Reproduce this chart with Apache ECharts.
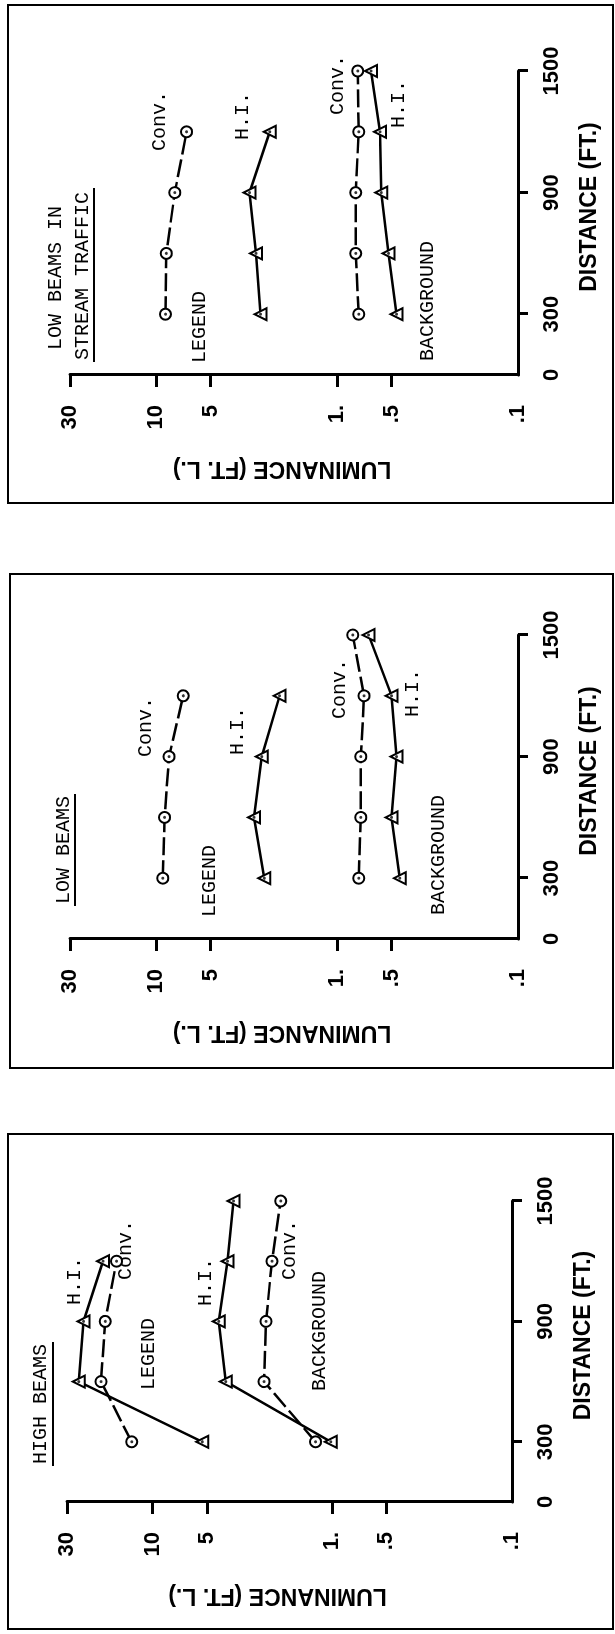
<!DOCTYPE html>
<html>
<head>
<meta charset="utf-8">
<title>Luminance vs distance</title>
<script src="https://cdn.jsdelivr.net/npm/echarts@6/dist/echarts.min.js"></script>
<style>
  html, body { margin: 0; padding: 0; background: #fff; overflow: hidden; }
  body { width: 615px; height: 1634px; position: relative; }
  /* the chart is drawn landscape and turned a quarter turn counter-clockwise */
  #chart {
    position: absolute; left: 0; top: 0;
    width: 1634px; height: 615px;
    transform-origin: 0 0;
    transform: translate(0, 1634px) rotate(-90deg);
  }
</style>
</head>
<body>
<div id="chart"></div>
<script>
const distances = [300, 600, 900, 1200, 1500]
const distTicks = [300, 900, 1500]
const distLabels = [0, 300, 900, 1500]
const lumTicks = [30, 10, 5, 1, 0.5]
const lumLabelValues = [30, 10, 5, 1, 0.5, 0.1]
const lumLabelText = ['30', '10', '5', '1.', '.5', '.1']

// HIGH BEAMS
const highLegendHI = [5.3, 25.8, 24.3, 18.9]
const highLegendConv = [13.1, 19.4, 18.4, 15.9]
const highBackHI = [1.02, 3.92, 4.29, 3.83, 3.55]
const highBackConv = [1.24, 2.40, 2.34, 2.17, 1.94]

// LOW BEAMS
const lowLegendHI = [2.53, 2.88, 2.61, 2.08]
const lowLegendConv = [9.2, 9.0, 8.5, 7.1]
const lowBackHI = [0.45, 0.50, 0.47, 0.50, 0.67]
const lowBackConv = [0.76, 0.74, 0.74, 0.71, 0.82]

// LOW BEAMS IN STREAM TRAFFIC
const streamLegendHI = [2.65, 2.81, 3.05, 2.36]
const streamLegendConv = [8.9, 8.8, 7.9, 6.8]
const streamBackHI = [0.47, 0.52, 0.57, 0.58, 0.65]
const streamBackConv = [0.76, 0.79, 0.79, 0.76, 0.77]

const boldFont = "'Liberation Sans Narrow', 'Liberation Sans', Arial, sans-serif"
const monoFont = "'Liberation Mono', 'DejaVu Sans Mono', monospace"

const panels = [
  {
    titles: [['HIGH BEAMS', 230, 41]],
    underline: [168, 292, 53],
    frame: [5, 8, 495, 605],
    grid: { left: 132, top: 67, width: 301, height: 445 },
    hi: [highLegendHI, highBackHI],
    conv: [highLegendConv, highBackConv],
    notes: [['LEGEND', 280, 149], ['H.I.', 353, 75], ['Conv.', 384, 126],
            ['H.I.', 352, 206], ['Conv.', 384, 290], ['BACKGROUND', 303, 320]]
  },
  {
    titles: [['LOW BEAMS', 784, 64]],
    underline: [728, 840, 75],
    frame: [566, 10, 494, 603],
    grid: { left: 695, top: 70, width: 304, height: 448 },
    hi: [lowLegendHI, lowBackHI],
    conv: [lowLegendConv, lowBackConv],
    notes: [['LEGEND', 753, 210], ['Conv.', 907, 146], ['H.I.', 903, 238],
            ['Conv.', 945, 340], ['H.I.', 941, 413], ['BACKGROUND', 779, 439]]
  },
  {
    titles: [['LOW BEAMS IN', 1356, 56], ['STREAM TRAFFIC', 1358, 83]],
    underline: [1272, 1446, 94],
    frame: [1131, 8, 498, 605],
    grid: { left: 1259, top: 70, width: 304, height: 448 },
    hi: [streamLegendHI, streamBackHI],
    conv: [streamLegendConv, streamBackConv],
    notes: [['LEGEND', 1307, 200], ['Conv.', 1513, 160], ['H.I.', 1518, 243],
            ['Conv.', 1549, 338], ['H.I.', 1530, 399], ['BACKGROUND', 1333, 428]]
  }
]

const toPoints = arr => arr.map((v, i) => [distances[i], v])

const markerStyle = { color: '#fff', borderColor: '#000', borderWidth: 2 }

const grids = []
const xAxes = []
const yAxes = []
const series = []
const graphics = []

panels.forEach((p, i) => {
  grids.push({ ...p.grid, containLabel: false, outerBoundsMode: 'none' })

  xAxes.push({
    type: 'value',
    gridIndex: i,
    min: 0,
    max: 1500,
    name: 'DISTANCE (FT.)',
    nameLocation: 'middle',
    nameGap: 60,
    nameTextStyle: { color: '#000', fontSize: 23, fontWeight: 'bold', fontFamily: boldFont, padding: [0, 0, 0, 32] },
    axisLine: { lineStyle: { color: '#000', width: 3 } },
    axisTick: { customValues: distTicks, length: 10, lineStyle: { color: '#000', width: 3 } },
    axisLabel: {
      customValues: distLabels,
      margin: 23,
      color: '#000',
      fontSize: 22,
      fontWeight: 'bold',
      fontFamily: boldFont,
      formatter: v => String(v)
    },
    splitLine: { show: false }
  })

  yAxes.push({
    type: 'log',
    logBase: 10,
    gridIndex: i,
    min: 0.1,
    max: 30,
    name: 'LUMINANCE (FT. L.)',
    nameLocation: 'middle',
    nameRotate: 90,
    nameGap: 82,
    nameTextStyle: { color: '#000', fontSize: 23, fontWeight: 'bold', fontFamily: boldFont, padding: [0, 0, 0, 24] },
    axisLine: { show: true, lineStyle: { color: '#000', width: 3 } },
    axisTick: { show: true, customValues: lumTicks, length: 12, lineStyle: { color: '#000', width: 3 } },
    axisLabel: {
      customValues: lumLabelValues,
      margin: 30,
      color: '#000',
      fontSize: 22,
      fontWeight: 'bold',
      fontFamily: boldFont,
      formatter: v => {
        const k = lumLabelValues.findIndex(t => Math.abs(t - v) < 1e-6)
        return k >= 0 ? lumLabelText[k] : ''
      }
    },
    splitLine: { show: false }
  })

  p.hi.forEach(arr => {
    series.push({
      type: 'line',
      xAxisIndex: i,
      yAxisIndex: i,
      data: toPoints(arr),
      symbol: 'triangle',
      symbolSize: 12,
      itemStyle: markerStyle,
      lineStyle: { color: '#000', width: 2.5, type: 'solid' },
      animation: false
    })
  })
  p.conv.forEach(arr => {
    series.push({
      type: 'line',
      xAxisIndex: i,
      yAxisIndex: i,
      data: toPoints(arr),
      symbol: 'circle',
      symbolSize: 11,
      itemStyle: markerStyle,
      lineStyle: { color: '#000', width: 2.5, type: [18, 5] },
      animation: false
    })
  })
  // centre dots inside every marker
  series.push({
    type: 'scatter',
    xAxisIndex: i,
    yAxisIndex: i,
    data: [...p.hi, ...p.conv].flatMap(toPoints),
    symbol: 'circle',
    symbolSize: 3,
    itemStyle: { color: '#000' },
    z: 5,
    animation: false
  })

  const [fx, fy, fw, fh] = p.frame
  graphics.push({
    type: 'rect',
    shape: { x: fx, y: fy, width: fw, height: fh },
    style: { fill: 'none', stroke: '#000', lineWidth: 2 }
  })
  p.titles.concat(p.notes).forEach(([text, x, y]) => {
    graphics.push({
      type: 'text',
      x: x,
      y: y,
      style: {
        text: text,
        fill: '#000',
        fontSize: 20,
        fontFamily: monoFont,
        align: 'center',
        verticalAlign: 'middle'
      }
    })
  })
  const [ux1, ux2, uy] = p.underline
  graphics.push({
    type: 'line',
    shape: { x1: ux1, y1: uy, x2: ux2, y2: uy },
    style: { stroke: '#000', lineWidth: 2 }
  })
})

const chart = echarts.init(document.getElementById('chart'), null, { renderer: 'canvas' })

chart.setOption({
  backgroundColor: '#fff',
  animation: false,
  grid: grids,
  xAxis: xAxes,
  yAxis: yAxes,
  series: series,
  graphic: graphics
})

window.addEventListener('resize', () => chart.resize())
</script>
</body>
</html>
